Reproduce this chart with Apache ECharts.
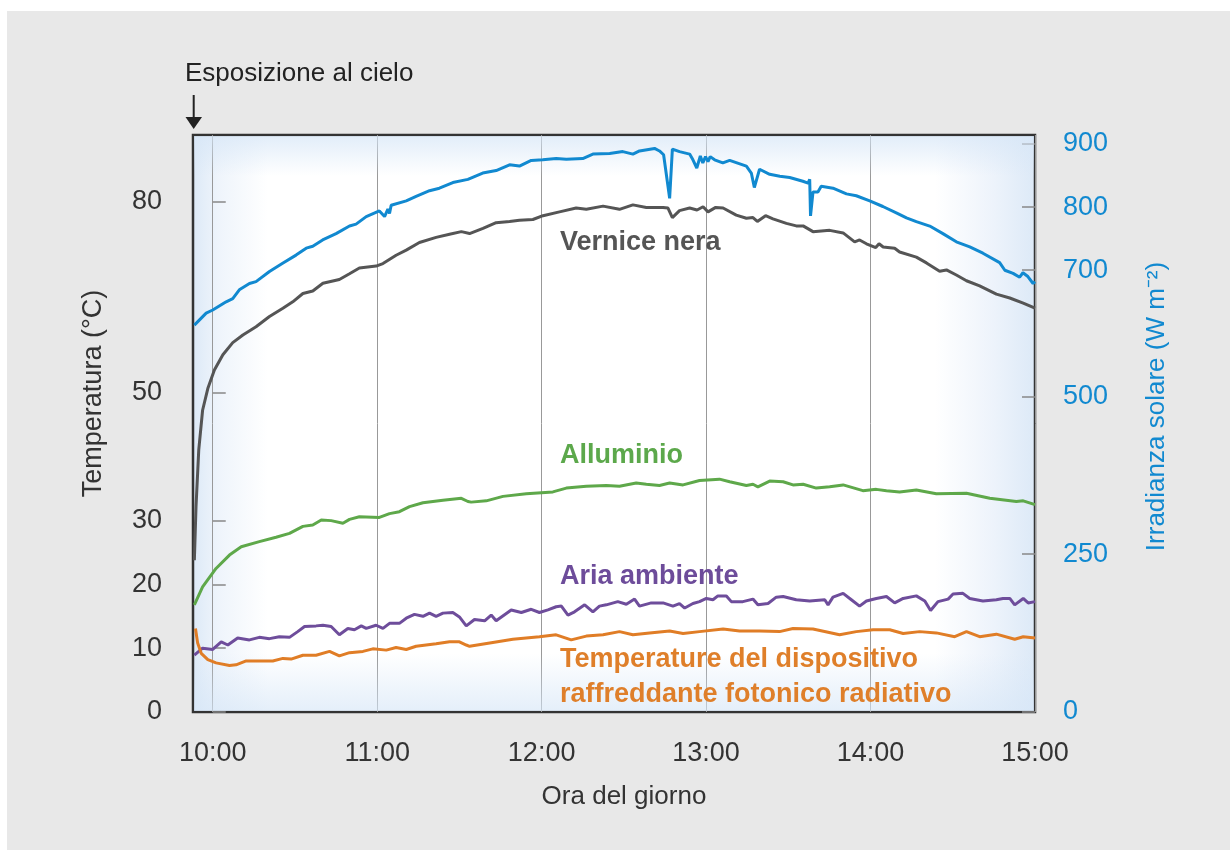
<!DOCTYPE html>
<html>
<head>
<meta charset="utf-8">
<script src="https://cdn.jsdelivr.net/npm/echarts@6/dist/echarts.min.js"></script>
<style>
html, body { margin: 0; padding: 0; background: #fff; }
#container { width: 1230px; height: 850px; }
</style>
</head>
<body>
<div id="container"></div>
<script>
// minuti dopo le 10:00 -> valore
var xTicks = [0, 60, 120, 180, 240, 300];
var xTickLabels = ['10:00', '11:00', '12:00', '13:00', '14:00', '15:00'];
var tempTicks = [0, 10, 20, 30, 50, 80];
var irrTicks = [0, 250, 500, 700, 800, 900];

// irradianza solare (W m-2), asse destro
var irradianza = [
  [-6.7, 613], [-2.4, 632], [0, 637], [4.9, 650], [7.3, 655], [9.7, 669], [13.4, 679], [15.8, 682],
  [20.7, 698], [25.5, 711], [30.4, 724], [34.1, 735], [36.5, 738], [40.1, 748], [45, 758], [49.9, 770],
  [52.3, 773], [56, 785], [60.8, 794], [62.7, 785], [63.9, 797], [64.5, 790], [65.1, 803], [70.6, 810],
  [74.2, 817], [79.1, 826], [82.7, 830], [87.6, 839], [93.1, 844], [98.5, 854], [103.4, 858], [108.3, 867],
  [111.9, 865], [116.2, 874], [120.4, 875], [125.3, 877], [129, 876], [135, 877], [138.7, 884], [144.8, 885],
  [149.6, 888], [153.3, 884], [155.7, 889], [161.2, 893], [163, 889], [164.5, 883], [166.7, 814], [167.7, 892],
  [170.3, 888], [174, 884], [175.2, 875], [176.6, 862], [177.9, 881], [178.8, 870], [179.8, 880], [180.7, 872],
  [181.5, 880], [183.1, 875], [186.1, 870], [188.6, 874], [194.7, 865], [196.5, 854], [197.6, 831], [199.5, 860],
  [203.2, 852], [206.9, 849], [210.5, 847], [215.3, 841], [217.2, 838], [217.8, 844], [218.1, 786], [219, 824],
  [220.8, 824], [222, 833], [226.3, 830], [231.2, 821], [234.8, 818], [239.7, 810], [244.5, 801], [249.4, 791],
  [253.1, 783], [256.7, 777], [261.6, 770], [266.4, 758], [271.3, 745], [276.2, 737], [281, 727], [287.1, 712],
  [289, 700], [292, 695], [294.4, 689], [295.6, 696], [297.4, 690], [299.3, 679], [300, 682]
];

// temperature (°C), asse sinistro
var verniceNera = [
  [-6.7, 23.8], [-6.1, 32.2], [-5.1, 41.1], [-3.7, 47.3], [-1.8, 50.7], [0.6, 53.6], [3.7, 56.0], [7.3, 57.9],
  [11, 59.1], [15.8, 60.4], [20.7, 62.0], [25.6, 63.3], [29.2, 64.3], [32.9, 65.6], [36.5, 66.0], [40.2, 67.2],
  [46.2, 67.8], [49.9, 68.7], [53.5, 69.6], [59.6, 69.9], [62.1, 70.3], [66.9, 71.6], [70.6, 72.4], [75.4, 73.6],
  [81.5, 74.4], [86.4, 74.9], [90.7, 75.3], [93.7, 75.0], [98.6, 75.8], [103.4, 76.7], [108.3, 76.9], [111.9, 77.1],
  [116.8, 77.2], [120.5, 77.8], [126.5, 78.4], [132.6, 79.0], [136.3, 78.8], [142.4, 79.3], [148.4, 78.8], [153.3, 79.5],
  [158.2, 79.1], [164.3, 79.1], [166.1, 79.0], [167.7, 77.5], [170.3, 78.6], [174, 79.0], [176.7, 78.7], [178.9, 79.2],
  [180.7, 78.4], [183.5, 79.1], [186.2, 79.0], [191, 77.9], [194.7, 77.4], [197.1, 77.5], [198.7, 76.9], [201.7, 77.8],
  [204.4, 77.3], [209.3, 76.6], [212.9, 76.2], [215.4, 76.2], [219, 75.3], [225.1, 75.5], [230, 75.1], [234.2, 73.7],
  [236, 74.0], [238.5, 73.4], [241.9, 72.8], [243.1, 73.4], [244.6, 72.9], [248.8, 72.7], [250.6, 72.1], [256.7, 71.3],
  [260.4, 70.4], [265.2, 69.1], [267.7, 69.3], [271.3, 68.5], [275, 67.6], [279.8, 66.8], [285.9, 65.5], [290.8, 64.9],
  [295.7, 64.1], [300, 63.3]
];

var alluminio = [
  [-6.7, 16.8], [-3.7, 19.6], [1.2, 22.5], [6.1, 24.6], [10.4, 25.9], [17.0, 26.7], [23.1, 27.4], [28.0, 28.0],
  [32.9, 29.1], [36.5, 29.3], [39.6, 30.1], [43.2, 30.0], [47.5, 29.6], [49.9, 30.2], [53.5, 30.6], [60.8, 30.5],
  [64.5, 31.1], [68.1, 31.4], [71.8, 32.2], [76.7, 32.8], [84.0, 33.2], [90.7, 33.5], [93.1, 33.0], [94.3, 32.9],
  [99.8, 33.1], [105.9, 33.8], [114.4, 34.2], [124.1, 34.5], [129.0, 35.1], [136.3, 35.4], [143.6, 35.5], [148.4, 35.4],
  [154.5, 35.9], [158.2, 35.7], [163.0, 35.5], [166.7, 35.9], [171.6, 35.6], [177.6, 36.3], [184.9, 36.5], [188.6, 36.1],
  [194.7, 35.5], [197.1, 35.7], [198.9, 35.3], [203.2, 36.2], [208.1, 36.1], [211.7, 35.6], [215.4, 35.7], [220.2, 35.1],
  [225.1, 35.3], [230.0, 35.6], [237.2, 34.7], [242.1, 34.9], [245.8, 34.7], [250.6, 34.5], [256.7, 34.8], [264.0, 34.2],
  [275.0, 34.3], [283.5, 33.5], [293.2, 33.0], [295.7, 33.1], [300, 32.5]
];

var ariaAmbiente = [
  [-6.7, 8.9], [-3.7, 10.0], [0, 9.8], [3.1, 11.0], [5.5, 10.5], [9.1, 11.6], [13.4, 11.3], [17.0, 11.7],
  [20.7, 11.5], [24.3, 11.8], [28.0, 11.7], [31.0, 12.6], [33.5, 13.4], [37.7, 13.5], [40.2, 13.6], [43.2, 13.4],
  [46.2, 12.1], [49.3, 13.1], [51.7, 12.9], [54.2, 13.5], [56.0, 13.1], [59.6, 13.6], [62.1, 13.1], [64.5, 13.9],
  [68.1, 13.9], [70.6, 14.7], [73.6, 15.3], [76.7, 15.0], [79.1, 15.5], [81.5, 15.0], [84.0, 15.5], [87.6, 15.6],
  [90.0, 14.9], [92.5, 13.5], [95.5, 14.5], [99.2, 14.3], [101.6, 15.2], [103.4, 14.3], [108.9, 16.0], [112.6, 15.6],
  [116.2, 16.1], [119.2, 15.6], [122.3, 16.0], [125.3, 16.5], [127.2, 16.6], [129.6, 15.2], [132.0, 15.7], [135.7, 16.8],
  [138.7, 15.7], [141.1, 16.6], [143.6, 16.8], [147.8, 17.3], [150.9, 16.9], [153.9, 17.7], [155.7, 16.6], [160.0, 17.1],
  [164.3, 17.1], [167.9, 16.6], [170.3, 17.0], [172.2, 16.3], [175.2, 17.0], [177.6, 17.3], [180.1, 17.8], [182.5, 17.6],
  [184.3, 18.2], [187.4, 18.2], [189.2, 17.3], [193.4, 17.3], [197.1, 17.7], [198.9, 16.8], [202.6, 17.0], [205.6, 18.0],
  [208.1, 18.1], [212.9, 17.6], [217.8, 17.4], [223.3, 17.6], [224.5, 16.8], [226.3, 18.0], [230.0, 18.6], [233.0, 17.6],
  [236.0, 16.6], [238.5, 17.4], [242.1, 17.8], [245.8, 18.1], [248.8, 17.1], [251.9, 17.8], [256.7, 18.2], [259.8, 17.4],
  [261.9, 15.9], [264.6, 17.3], [268.3, 17.7], [270.1, 18.5], [273.7, 18.6], [276.2, 17.8], [281.0, 17.4], [285.9, 17.6],
  [288.3, 17.8], [290.8, 17.8], [292.6, 16.8], [295.7, 17.8], [297.5, 17.1], [300, 17.3]
];

var dispositivo = [
  [-6.3, 13.1], [-5.5, 10.8], [-4.2, 9.2], [-1.8, 8.2], [1.2, 7.7], [6.1, 7.3], [8.5, 7.4], [12.2, 8.0],
  [17.0, 8.0], [21.9, 8.0], [25.6, 8.4], [28.6, 8.3], [32.9, 8.9], [37.7, 8.9], [42.6, 9.5], [46.2, 8.8],
  [49.9, 9.3], [54.8, 9.5], [58.4, 9.9], [63.3, 9.7], [66.9, 10.1], [70.6, 9.8], [74.2, 10.3], [81.5, 10.7],
  [86.4, 11.0], [90.0, 11.0], [92.5, 10.5], [93.7, 10.3], [102.2, 10.9], [109.5, 11.4], [119.2, 11.8], [125.3, 12.1],
  [130.8, 11.3], [136.3, 11.9], [142.4, 12.1], [148.4, 12.6], [153.3, 12.1], [159.4, 12.4], [166.7, 12.7], [171.6, 12.3],
  [177.6, 12.6], [186.2, 13.0], [192.2, 12.7], [199.5, 12.7], [206.8, 12.6], [211.7, 13.1], [219.0, 13.0], [228.7, 12.1],
  [234.8, 12.6], [240.9, 12.9], [247.0, 12.9], [251.9, 12.3], [257.9, 12.6], [264.0, 12.4], [270.7, 11.8], [275.0, 12.6],
  [279.8, 11.8], [285.9, 12.2], [292.6, 11.4], [295.7, 11.8], [300, 11.6]
];

var FONT = "'Liberation Sans', Arial, sans-serif";
var BLUE = '#1189d0';

var dom = document.getElementById('container');
var myChart = echarts.init(dom);

function lineSeries(name, data, color, axis) {
  return {
    name: name,
    type: 'line',
    yAxisIndex: axis,
    data: data,
    symbol: 'none',
    showSymbol: false,
    silent: true,
    lineStyle: { color: color, width: 3 }
  };
}

function label(text, x, y, color) {
  return {
    type: 'text', x: x, y: y, silent: true, z: 10,
    style: { text: text, fill: color, fontSize: 27, fontWeight: 'bold', fontFamily: FONT, verticalAlign: 'middle' }
  };
}

var option = {
  backgroundColor: '#e8e8e8',
  animation: false,
  textStyle: { fontFamily: FONT },
  grid: {
    left: 193, right: 195, top: 135, bottom: 138,
    show: true,
    borderColor: '#333',
    borderWidth: 2.5,
    // bordo sinistro/destro azzurrino, centro bianco
    backgroundColor: new echarts.graphic.LinearGradient(0, 0, 1, 0, [
      { offset: 0, color: '#dce9f7' },
      { offset: 0.03, color: '#eef4fb' },
      { offset: 0.09, color: '#ffffff' },
      { offset: 0.88, color: '#ffffff' },
      { offset: 0.95, color: '#edf3fb' },
      { offset: 1, color: '#dce9f7' }
    ])
  },
  xAxis: {
    type: 'value',
    min: -7.2,
    max: 300,
    axisLine: { show: false },
    axisTick: { show: false, customValues: xTicks },
    axisLabel: {
      customValues: xTicks,
      fontSize: 27,
      color: '#333',
      margin: 28,
      formatter: function (v) { return xTickLabels[xTicks.indexOf(v)]; }
    },
    splitLine: { show: true, lineStyle: { color: '#999', width: 1 } }
  },
  yAxis: [{
    type: 'value',
    min: 0,
    max: 90.45,
    position: 'left',
    axisLine: { show: false },
    axisTick: { show: true, inside: true, length: 13, customValues: tempTicks, lineStyle: { color: '#888', width: 1.5 } },
    axisLabel: { customValues: tempTicks, fontSize: 27, color: '#333', margin: 31 },
    splitLine: { show: false }
  }, {
    type: 'value',
    min: 0,
    max: 914.3,
    position: 'right',
    axisLine: { show: false },
    axisTick: { show: true, inside: true, length: 13, customValues: irrTicks, lineStyle: { color: '#888', width: 1.5 } },
    axisLabel: { customValues: irrTicks, fontSize: 27, color: BLUE, margin: 28 },
    splitLine: { show: false }
  }],
  graphic: [
    { type: 'rect', silent: true, shape: { x: 0, y: 0, width: 1230, height: 11 }, style: { fill: '#fff' } },
    { type: 'rect', silent: true, shape: { x: 0, y: 0, width: 7, height: 850 }, style: { fill: '#fff' } },
    // velatura azzurra sopra/sotto
    {
      type: 'rect', silent: true, z: 1,
      shape: { x: 194, y: 136, width: 840, height: 575 },
      style: {
        fill: new echarts.graphic.LinearGradient(0, 0, 0, 1, [
          { offset: 0, color: 'rgba(214,230,247,0.7)' },
          { offset: 0.07, color: 'rgba(214,230,247,0)' },
          { offset: 0.9, color: 'rgba(214,230,247,0)' },
          { offset: 1, color: 'rgba(214,230,247,0.65)' }
        ])
      }
    },
    {
      type: 'text', x: 185, y: 74, silent: true,
      style: { text: 'Esposizione al cielo', fill: '#222', fontSize: 26, fontFamily: FONT, verticalAlign: 'middle' }
    },
    { type: 'line', silent: true, shape: { x1: 193.7, y1: 95, x2: 193.7, y2: 120 }, style: { stroke: '#222', lineWidth: 2 } },
    { type: 'polygon', silent: true, shape: { points: [[185.5, 117], [202, 117], [193.7, 129]] }, style: { fill: '#222' } },
    {
      type: 'text', x: 94, y: 393.5, rotation: Math.PI / 2, silent: true,
      style: { text: 'Temperatura (°C)', fill: '#333', fontSize: 27, fontFamily: FONT, align: 'center', verticalAlign: 'middle' }
    },
    {
      type: 'text', x: 1157, y: 406.5, rotation: Math.PI / 2, silent: true,
      style: { text: 'Irradianza solare (W m⁻²)', fill: BLUE, fontSize: 26, fontFamily: FONT, align: 'center', verticalAlign: 'middle' }
    },
    {
      type: 'text', x: 624, y: 797, silent: true,
      style: { text: 'Ora del giorno', fill: '#333', fontSize: 26, fontFamily: FONT, align: 'center', verticalAlign: 'middle' }
    },
    label('Vernice nera', 560, 243, '#555555'),
    label('Alluminio', 560, 456, '#5ca84b'),
    label('Aria ambiente', 560, 577, '#6d4c9a'),
    label('Temperature del dispositivo', 560, 660, '#df7f2a'),
    label('raffreddante fotonico radiativo', 560, 695, '#df7f2a')
  ],
  series: [
    lineSeries('Irradianza solare', irradianza, BLUE, 1),
    lineSeries('Vernice nera', verniceNera, '#555555', 0),
    lineSeries('Alluminio', alluminio, '#5ea84a', 0),
    lineSeries('Aria ambiente', ariaAmbiente, '#6e4d9b', 0),
    lineSeries('Dispositivo', dispositivo, '#e07d26', 0)
  ]
};

myChart.setOption(option);
</script>
</body>
</html>
